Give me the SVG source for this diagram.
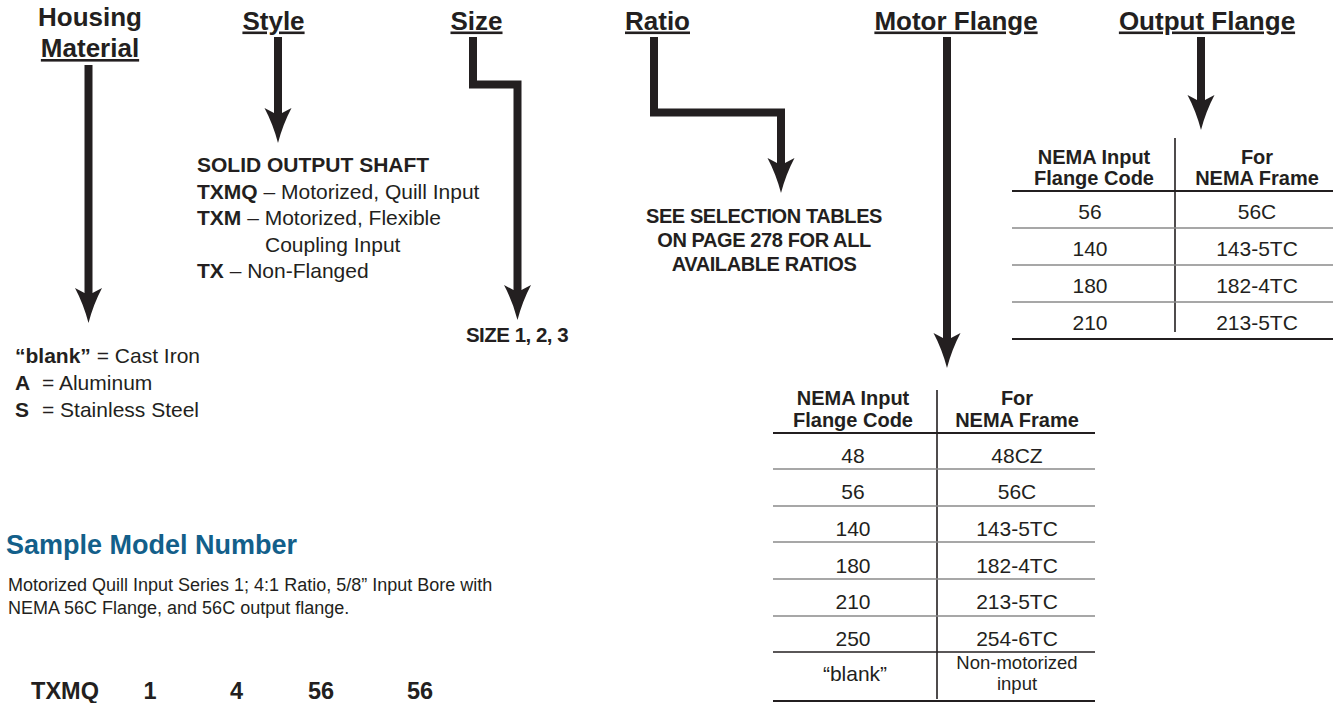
<svg xmlns="http://www.w3.org/2000/svg" width="1333" height="703" viewBox="0 0 1333 703">
<style>
  text { font-family: "Liberation Sans", Arial, Helvetica, sans-serif; fill: #231f20; }
  .hdr { font-size: 26px; font-weight: bold; text-anchor: middle; text-decoration: underline; }
  .hdr2 { font-size: 26px; font-weight: bold; text-anchor: middle; }
  .body { font-size: 21px; }
  .b { font-weight: bold; }
  .caps { font-size: 20px; font-weight: bold; letter-spacing: -0.4px; text-anchor: middle; }
  .th { font-size: 20px; font-weight: bold; text-anchor: middle; }
  .td { font-size: 21px; text-anchor: middle; }
  .td2 { font-size: 18.5px; text-anchor: middle; }
  .title { font-size: 27px; font-weight: bold; fill: #135f8a; }
  .desc { font-size: 18px; }
  .model { font-size: 23.5px; font-weight: bold; text-anchor: middle; }
  .conn { fill: none; stroke: #231f20; stroke-width: 8; stroke-linejoin: miter; stroke-linecap: butt; marker-end: url(#ah); }
  .rule { stroke: #231f20; stroke-width: 2; }
  .thin { stroke: #8a8a8a; stroke-width: 1.5; }
  .div { stroke: #231f20; stroke-width: 1.6; }
</style>
<defs>
  <marker id="ah" markerUnits="userSpaceOnUse" markerWidth="40" markerHeight="30" refX="5" refY="15" orient="auto" overflow="visible">
    <path d="M35,15 Q16,10 0,1.5 L5,11 L5,19 L0,28.5 Q16,20 35,15 Z" fill="#231f20"/>
  </marker>
</defs>
<rect width="1333" height="703" fill="#ffffff"/>

<g id="connectors">
  <path class="conn" d="M88.5,65 V293"/>
  <path class="conn" d="M278,37 V113"/>
  <path class="conn" d="M473,37 V84.5 H517.5 V290"/>
  <path class="conn" d="M654,37 V112.5 H781 V163"/>
  <path class="conn" d="M947,37 V338"/>
  <path class="conn" d="M1201,37 V100"/>
</g>

<g id="header-housing">
  <text class="hdr2" x="90" y="26">Housing</text>
  <text class="hdr" x="90" y="57">Material</text>
</g>
<g id="header-style"><text class="hdr" x="273.5" y="29.5">Style</text></g>
<g id="header-size"><text class="hdr" x="476.5" y="29.5">Size</text></g>
<g id="header-ratio"><text class="hdr" x="657.5" y="29.5">Ratio</text></g>
<g id="header-motor-flange"><text class="hdr" x="956" y="29.5">Motor Flange</text></g>
<g id="header-output-flange"><text class="hdr" x="1207" y="29.5">Output Flange</text></g>

<g id="housing-options" class="body">
  <text x="15" y="363"><tspan class="b">“blank”</tspan> = Cast Iron</text>
  <text x="15" y="390"><tspan class="b">A</tspan><tspan x="42">= Aluminum</tspan></text>
  <text x="15" y="417"><tspan class="b">S</tspan><tspan x="42">= Stainless Steel</tspan></text>
</g>

<g id="style-options" class="body">
  <text x="197" y="172" class="b">SOLID OUTPUT SHAFT</text>
  <text x="197" y="198.5"><tspan class="b">TXMQ</tspan> – Motorized, Quill Input</text>
  <text x="197" y="225"><tspan class="b">TXM</tspan> – Motorized, Flexible</text>
  <text x="265" y="251.5">Coupling Input</text>
  <text x="197" y="278"><tspan class="b">TX</tspan> – Non-Flanged</text>
</g>

<g id="size-options">
  <text class="caps" x="517" y="342" style="font-size:20.5px;letter-spacing:-0.5px">SIZE 1, 2, 3</text>
</g>

<g id="ratio-options">
  <text class="caps" x="764" y="223">SEE SELECTION TABLES</text>
  <text class="caps" x="764" y="247">ON PAGE 278 FOR ALL</text>
  <text class="caps" x="764" y="270.5">AVAILABLE RATIOS</text>
</g>

<g id="output-flange-table">
  <line class="div" x1="1175" y1="138" x2="1175" y2="332"/>
  <text class="th" x="1094" y="164">NEMA Input</text>
  <text class="th" x="1094" y="185">Flange Code</text>
  <text class="th" x="1257" y="164">For</text>
  <text class="th" x="1257" y="185">NEMA Frame</text>
  <line class="rule" x1="1012" y1="191" x2="1333" y2="191"/>
  <text class="td" x="1090" y="219">56</text><text class="td" x="1257" y="219">56C</text>
  <line class="thin" x1="1012" y1="228" x2="1333" y2="228"/>
  <text class="td" x="1090" y="256">140</text><text class="td" x="1257" y="256">143-5TC</text>
  <line class="thin" x1="1012" y1="265" x2="1333" y2="265"/>
  <text class="td" x="1090" y="292.5">180</text><text class="td" x="1257" y="292.5">182-4TC</text>
  <line class="thin" x1="1012" y1="302" x2="1333" y2="302"/>
  <text class="td" x="1090" y="329.5">210</text><text class="td" x="1257" y="329.5">213-5TC</text>
  <line class="rule" x1="1012" y1="339" x2="1333" y2="339"/>
</g>

<g id="motor-flange-table">
  <line class="div" x1="937" y1="390" x2="937" y2="699"/>
  <text class="th" x="853" y="405">NEMA Input</text>
  <text class="th" x="853" y="427">Flange Code</text>
  <text class="th" x="1017" y="405">For</text>
  <text class="th" x="1017" y="427">NEMA Frame</text>
  <line class="rule" x1="773" y1="433" x2="1095" y2="433"/>
  <text class="td" x="853" y="462.5">48</text><text class="td" x="1017" y="462.5">48CZ</text>
  <line class="thin" x1="773" y1="469" x2="1095" y2="469"/>
  <text class="td" x="853" y="499">56</text><text class="td" x="1017" y="499">56C</text>
  <line class="thin" x1="773" y1="506" x2="1095" y2="506"/>
  <text class="td" x="853" y="536">140</text><text class="td" x="1017" y="536">143-5TC</text>
  <line class="thin" x1="773" y1="542" x2="1095" y2="542"/>
  <text class="td" x="853" y="572.5">180</text><text class="td" x="1017" y="572.5">182-4TC</text>
  <line class="thin" x1="773" y1="579" x2="1095" y2="579"/>
  <text class="td" x="853" y="609">210</text><text class="td" x="1017" y="609">213-5TC</text>
  <line class="thin" x1="773" y1="616" x2="1095" y2="616"/>
  <text class="td" x="853" y="645.5">250</text><text class="td" x="1017" y="645.5">254-6TC</text>
  <line class="rule" x1="773" y1="652" x2="1095" y2="652" style="stroke-width:1.6"/>
  <text class="td" x="855" y="680.5">“blank”</text>
  <text class="td2" x="1017" y="668.5">Non-motorized</text>
  <text class="td2" x="1017" y="690">input</text>
  <line class="rule" x1="773" y1="701" x2="1095" y2="701"/>
</g>

<g id="sample-model">
  <text class="title" x="6" y="554">Sample Model Number</text>
  <text class="desc" x="8" y="590.5">Motorized Quill Input Series 1; 4:1 Ratio, 5/8” Input Bore with</text>
  <text class="desc" x="8" y="613.5">NEMA 56C Flange, and 56C output flange.</text>
  <text class="model" x="65" y="699">TXMQ</text>
  <text class="model" x="150" y="699">1</text>
  <text class="model" x="236.5" y="699">4</text>
  <text class="model" x="321" y="699">56</text>
  <text class="model" x="420" y="699">56</text>
</g>
</svg>
